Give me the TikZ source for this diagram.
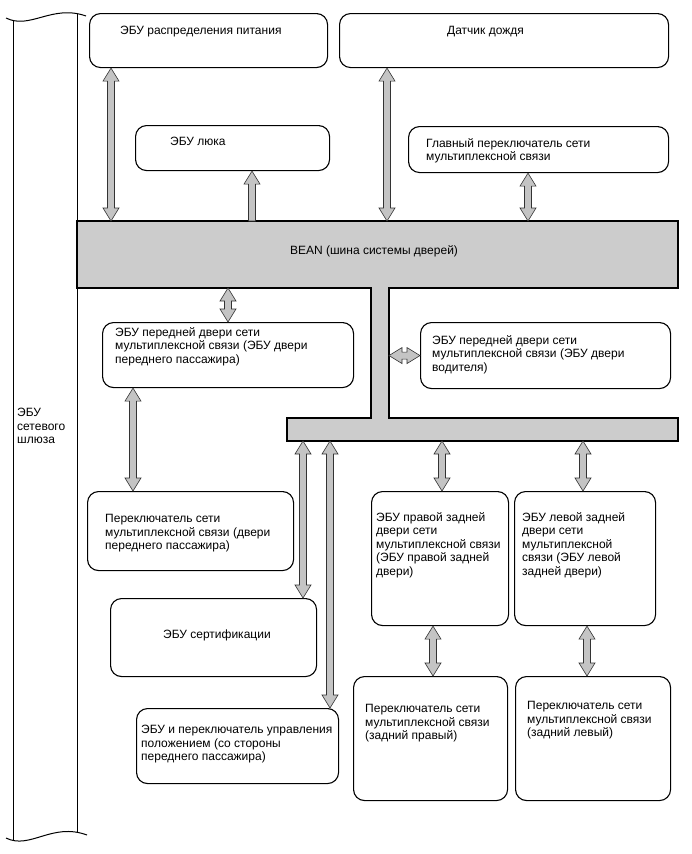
\documentclass[tikz,border=0pt]{standalone}
\usepackage{fontspec}
\setmainfont{Liberation Sans}
\usetikzlibrary{calc}
\definecolor{arrgray}{RGB}{196,196,196}
\definecolor{busgray}{RGB}{204,204,204}
\tikzset{
  box/.style={draw=black, line width=1.1pt, rounded corners=11pt, inner sep=0pt, anchor=north west},
  txt/.style={font=\fontsize{12}{13.6}\selectfont, align=left, inner sep=0pt, anchor=north west},
  blockarr/.style={draw=black!80, line width=0.6pt, fill=arrgray},
  gw/.style={draw=black, line width=1pt},
  bus/.style={draw=black, line width=1.1pt, fill=busgray}
}
\newcommand\dblarr[2]{\draw[blockarr] let \p1=(#1), \p2=(#2), \n1={atan2(\y2-\y1,\x2-\x1)}, \n2={veclen(\x2-\x1,\y2-\y1)} in {[shift={(\p1)}, rotate=\n1] (0,0) -- (13,8) -- (13,3.5) -- ({\n2-13},3.5) -- ({\n2-13},8) -- (\n2,0) -- ({\n2-13},-8) -- ({\n2-13},-3.5) -- (13,-3.5) -- (13,-8) -- cycle};}
\newcommand\sglarr[2]{\draw[blockarr] let \p1=(#1), \p2=(#2), \n1={atan2(\y2-\y1,\x2-\x1)}, \n2={veclen(\x2-\x1,\y2-\y1)} in {[shift={(\p1)}, rotate=\n1] (0,3.5) -- ({\n2-13},3.5) -- ({\n2-13},8) -- (\n2,0) -- ({\n2-13},-8) -- ({\n2-13},-3.5) -- (0,-3.5) -- cycle};}
\begin{document}
\begin{tikzpicture}[x=1pt, y=-1pt]
\useasboundingbox (0,0) rectangle (691,854);
\fill[white] (0,0) rectangle (691,854);

% gateway ECU
\draw[gw] (6,18) .. controls (30,30) and (52,4) .. (86,16);
\draw[gw] (6,838) .. controls (30,850) and (52,822) .. (87,835);
\draw[gw] (13,20.5) -- (13,840.5);
\draw[gw] (77,13.5) -- (77,832.2);
\node[txt] (gwtxt) at (17,408) {ЭБУ\\сетевого\\шлюза};

% bus
\draw[bus] (77,221) -- (678,221) -- (678,288) -- (389,288) -- (389,418) -- (678,418) -- (678,441) -- (287,441) -- (287,418) -- (371,418) -- (371,288) -- (77,288) -- cycle;
\node[font=\fontsize{12}{13.6}\selectfont, inner sep=0pt] (bustxt) at (374,251) {BEAN (шина системы дверей)};
\coordinate (busN) at (0,221);
\coordinate (busS) at (0,288);
\coordinate (stemE) at (389,0);
\coordinate (barS) at (0,441);

% boxes
\node[box, minimum width=238, minimum height=54] (b1) at (89,13) {};
\node[box, minimum width=329, minimum height=54] (b2) at (339,13) {};
\node[box, minimum width=194, minimum height=45] (b3) at (135,125) {};
\node[box, minimum width=260, minimum height=46] (b4) at (408,126) {};
\node[box, minimum width=251, minimum height=65] (b5) at (102,322) {};
\node[box, minimum width=250, minimum height=66] (b6) at (420,322) {};
\node[box, minimum width=206, minimum height=79] (b7) at (87,491) {};
\node[box, minimum width=206, minimum height=78] (b8) at (110,598) {};
\node[box, minimum width=202, minimum height=75] (b9) at (136,708) {};
\node[box, minimum width=137, minimum height=134] (b10) at (371,491) {};
\node[box, minimum width=141, minimum height=134] (b11) at (514,491) {};
\node[box, minimum width=154, minimum height=124] (b12) at (353,676) {};
\node[box, minimum width=155, minimum height=124] (b13) at (515,676) {};

% texts
\node[txt] (t1) at (120,26) {ЭБУ распределения питания};
\node[txt] (t2) at (447,26) {Датчик дождя};
\node[txt] (t3) at (170,137) {ЭБУ люка};
\node[txt] (t4) at (426,138) {Главный переключатель сети\\мультиплексной связи};
\node[txt] (t5) at (115,327) {ЭБУ передней двери сети\\мультиплексной связи (ЭБУ двери\\переднего пассажира)};
\node[txt] (t6) at (432,335) {ЭБУ передней двери сети\\мультиплексной связи (ЭБУ двери\\водителя)};
\node[txt] (t7) at (105,514) {Переключатель сети\\мультиплексной связи (двери\\переднего пассажира)};
\node[txt] (t8) at (163,630) {ЭБУ сертификации};
\node[txt] (t9) at (141,725) {ЭБУ и переключатель управления\\положением (со стороны\\переднего пассажира)};
\node[txt] (t10) at (376,512) {ЭБУ правой задней\\двери сети\\мультиплексной связи\\(ЭБУ правой задней\\двери)};
\node[txt] (t11) at (522,512) {ЭБУ левой задней\\двери сети\\мультиплексной\\связи (ЭБУ левой\\задней двери)};
\node[txt] (t12) at (365,704) {Переключатель сети\\мультиплексной связи\\(задний правый)};
\node[txt] (t13) at (527,701) {Переключатель сети\\мультиплексной связи\\(задний левый)};

% arrow end coordinates
\coordinate (a1s) at ($(b1.south west)+(22,0)$);
\coordinate (a2e) at ($(b3.south west)+(117,0)$);
\coordinate (a3s) at ($(b2.south west)+(48,0)$);
\coordinate (a4s) at ($(b4.south west)+(120,0)$);
\coordinate (a5e) at ($(b5.north west)+(126,0)$);
\coordinate (a7s) at ($(b5.south west)+(31,0)$);
\coordinate (a8e) at ($(b8.north west)+(193,0)$);
\coordinate (a9e) at ($(b9.north west)+(194,0)$);
\coordinate (a10e) at ($(b10.north west)+(71,0)$);
\coordinate (a11e) at ($(b11.north west)+(69,0)$);
\coordinate (a12s) at ($(b10.south west)+(62,0)$);
\coordinate (a13s) at ($(b11.south west)+(73,0)$);

% arrows
\dblarr{a1s}{a1s |- busN}
\sglarr{a2e |- busN}{a2e}
\dblarr{a3s}{a3s |- busN}
\dblarr{a4s}{a4s |- busN}
\dblarr{a5e |- busS}{a5e}
\dblarr{b6.west -| stemE}{b6.west}
\dblarr{a7s}{a7s |- b7.north}
\dblarr{a8e |- barS}{a8e}
\dblarr{a9e |- barS}{a9e}
\dblarr{a10e |- barS}{a10e}
\dblarr{a11e |- barS}{a11e}
\dblarr{a12s}{a12s |- b12.north}
\dblarr{a13s}{a13s |- b13.north}
\end{tikzpicture}
\end{document}
